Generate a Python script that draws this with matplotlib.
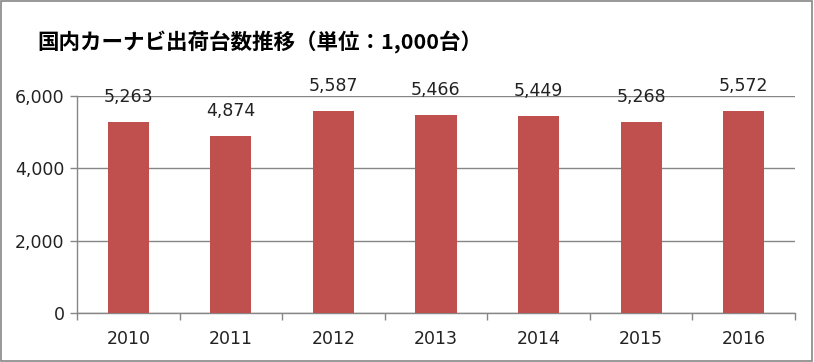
import matplotlib.pyplot as plt
from matplotlib.patches import Rectangle

plt.rcParams['font.family'] = ['DejaVu Sans', 'Noto Sans CJK JP']

years = ["2010", "2011", "2012", "2013", "2014", "2015", "2016"]
shipments = [5263, 4874, 5587, 5466, 5449, 5268, 5572]
yticks = [0, 2000, 4000, 6000]
title = "国内カーナビ出荷台数推移（単位：1,000台）"

grey = "#868686"

fig = plt.figure(figsize=(8.14, 3.62), dpi=100)
ax = fig.add_axes([77 / 814, 1 - 313 / 362, (795 - 77) / 814, (313 - 95.7) / 362])

x = list(range(len(years)))
ax.bar(x, shipments, width=0.4, color="#C0504D", zorder=3)
for xi, v in zip(x, shipments):
    ax.annotate(f"{v:,}", (xi, v), xytext=(0, 18), textcoords="offset points",
                ha="center", va="center", fontsize=12.5, color="#222222", zorder=4)

ax.set_xlim(-0.5, len(years) - 0.5)
ax.set_ylim(0, 6000)
ax.set_yticks(yticks)
ax.set_yticklabels([f"{t:,}" for t in yticks], fontsize=12.5, color="#222222")
ax.set_xticks(x)
ax.set_xticklabels(years, fontsize=12.5, color="#222222")
ax.set_xticks([i - 0.5 for i in range(len(years) + 1)], minor=True)
ax.tick_params(axis="x", which="major", length=0, pad=12)
ax.tick_params(axis="x", which="minor", length=5, color=grey, width=1)
ax.tick_params(axis="y", length=5, color=grey, width=1, pad=4)
ax.grid(axis="y", color=grey, linewidth=1, zorder=0)
for s in ["top", "right"]:
    ax.spines[s].set_visible(False)
for s in ["left", "bottom"]:
    ax.spines[s].set_color(grey)
    ax.spines[s].set_linewidth(1)

fig.text(260 / 814, 1 - 42 / 362, title, family=["Noto Sans CJK JP"], fontweight="bold",
         fontsize=15.5, ha="center", va="center", color="black")

fig.patches.append(Rectangle((0.001, 0.002), 0.997, 0.995, transform=fig.transFigure,
                             fill=False, edgecolor=grey, linewidth=1.2))

fig.savefig("out.png", dpi=100)
